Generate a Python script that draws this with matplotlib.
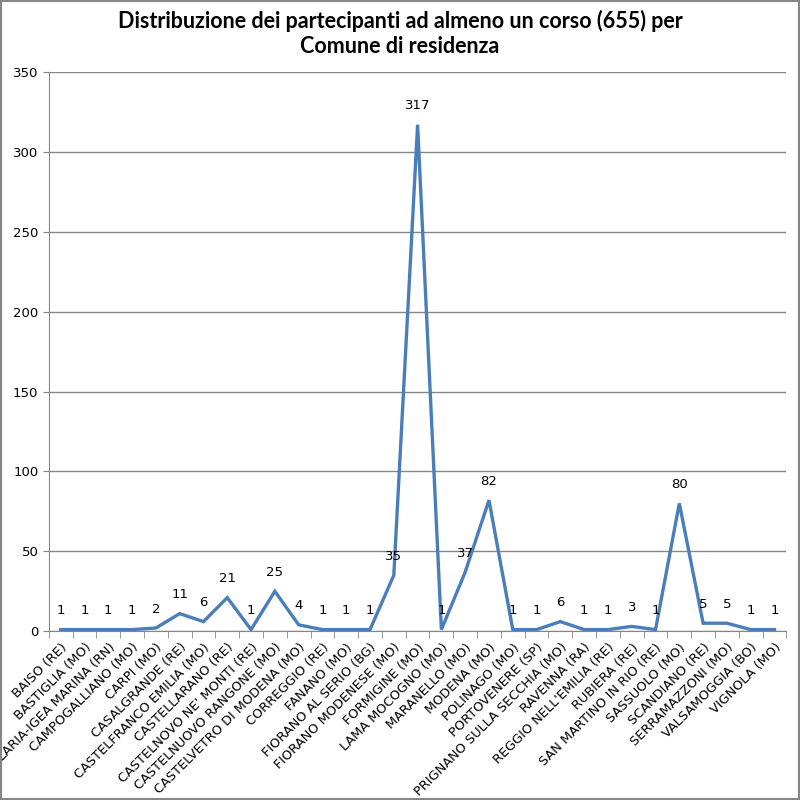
import matplotlib.pyplot as plt
from matplotlib.patches import Rectangle

# Comuni and number of participants
comuni = ["BAISO (RE)", "BASTIGLIA (MO)", "BELLARIA-IGEA MARINA (RN)", "CAMPOGALLIANO (MO)",
          "CARPI (MO)", "CASALGRANDE (RE)", "CASTELFRANCO EMILIA (MO)", "CASTELLARANO (RE)",
          "CASTELNOVO NE' MONTI (RE)", "CASTELNUOVO RANGONE (MO)", "CASTELVETRO DI MODENA (MO)",
          "CORREGGIO (RE)", "FANANO (MO)", "FIORANO AL SERIO (BG)", "FIORANO MODENESE (MO)",
          "FORMIGINE (MO)", "LAMA MOCOGNO (MO)", "MARANELLO (MO)", "MODENA (MO)", "POLINAGO (MO)",
          "PORTOVENERE (SP)", "PRIGNANO SULLA SECCHIA (MO)", "RAVENNA (RA)",
          "REGGIO NELL'EMILIA (RE)", "RUBIERA (RE)", "SAN MARTINO IN RIO (RE)", "SASSUOLO (MO)",
          "SCANDIANO (RE)", "SERRAMAZZONI (MO)", "VALSAMOGGIA (BO)", "VIGNOLA (MO)"]
partecipanti = [1, 1, 1, 1, 2, 11, 6, 21, 1, 25, 4, 1, 1, 1, 35, 317, 1, 37, 82, 1,
                1, 6, 1, 1, 3, 1, 80, 5, 5, 1, 1]
y_ticks = [0, 50, 100, 150, 200, 250, 300, 350]

fig = plt.figure(figsize=(8, 8), dpi=100)
ax = fig.add_axes([0.061, 0.211, 0.922, 0.699])

x = list(range(len(comuni)))
ax.plot(x, partecipanti, color='#4A7EBB', linewidth=2.4, solid_joinstyle='miter')
for xi, v in zip(x, partecipanti):
    ax.annotate(str(v), (xi, v), xytext=(0, 9), textcoords='offset points',
                ha='center', va='bottom', fontsize=9.5)

ax.set_xlim(-0.5, len(comuni) - 0.5)
ax.set_ylim(0, 350)
ax.set_yticks(y_ticks)
ax.tick_params(axis='y', labelsize=9.5, length=4, color='#868686')
ax.grid(axis='y', color='#868686', linewidth=1)
ax.set_axisbelow(True)

# category labels in the middle, ticks between categories
ax.set_xticks(x)
ax.set_xticklabels(comuni, rotation=45, ha='right', rotation_mode='anchor', fontsize=9.3)
ax.tick_params(axis='x', length=0, pad=7)
ax.set_xticks([i - 0.5 for i in range(len(comuni) + 1)], minor=True)
ax.tick_params(axis='x', which='minor', length=5, color='#868686')

for s in ['top', 'right']:
    ax.spines[s].set_visible(False)
for s in ['left', 'bottom']:
    ax.spines[s].set_color('#868686')

fig.text(0.5, 0.958, "Distribuzione dei partecipanti ad almeno un corso (655) per\nComune di residenza",
         ha='center', va='center', fontsize=15.5, fontweight='bold', family='Lato', linespacing=1.2)

fig.patches.append(Rectangle((0.001, 0.001), 0.998, 0.998, transform=fig.transFigure,
                             fill=False, edgecolor='#868686', linewidth=1.5))

fig.savefig('out.png', dpi=100)
